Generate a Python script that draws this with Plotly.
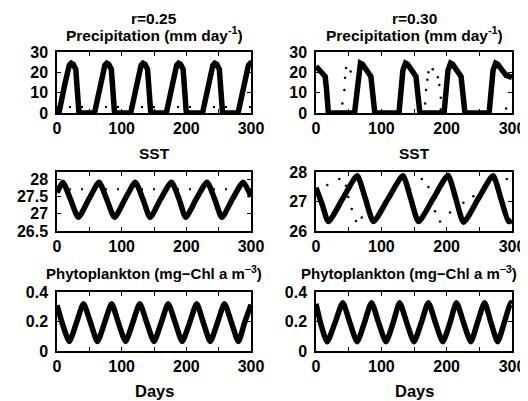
import plotly.graph_objects as go

# ---------------- data ----------------
# r = 0.25, precipitation (mm/day)
p25_days = [0, 3, 12, 19, 22, 25, 29, 31, 34,
            58, 67, 74, 77, 80, 84, 86, 89,
            114, 123, 130, 133, 136, 140, 142, 145,
            169, 178, 185, 188, 191, 195, 197, 200,
            225, 234, 241, 244, 247, 251, 253, 256,
            280, 289, 296, 299, 300]
p25_vals = [0, 0, 14, 23.5, 24.5, 24, 21.5, 15, 0,
            0, 14, 23.5, 24.5, 24, 21.5, 15, 0,
            0, 14, 23.5, 24.5, 24, 21.5, 15, 0,
            0, 14, 23.5, 24.5, 24, 21.5, 15, 0,
            0, 14, 23.5, 24.5, 24, 21.5, 15, 0,
            0, 14, 23.5, 24.5, 24.4]
p25_ref_days = [0, 300]
p25_ref_vals = [3, 3]

# r = 0.25, SST
s25_days = [0, 9, 21, 33, 49, 65, 77, 89, 105, 121, 133, 144, 160, 177,
            189, 199, 215, 232, 244, 255, 271, 288, 300]
s25_vals = [27.62, 27.92, 27.42, 26.9, 27.42, 27.92, 27.42, 26.9, 27.42, 27.92,
            27.42, 26.9, 27.42, 27.92, 27.42, 26.9, 27.42, 27.92, 27.42, 26.9,
            27.42, 27.92, 27.5]
s25_ref_days = [0, 300]
s25_ref_vals = [27.72, 27.72]

# r = 0.25, phytoplankton
c25_days = [0, 8, 19, 30, 41, 52, 62.5, 73.5, 84.5, 95, 106, 117, 128, 139, 150,
            161, 172, 183, 193.5, 205, 216, 226.5, 237, 248, 259, 270, 280.5, 290, 300]
c25_vals = [0.31, 0.19, 0.065, 0.19, 0.32, 0.19, 0.065, 0.19, 0.32, 0.19, 0.065,
            0.19, 0.32, 0.19, 0.065, 0.19, 0.32, 0.19, 0.065, 0.19, 0.32, 0.19,
            0.065, 0.19, 0.32, 0.19, 0.065, 0.19, 0.315]

# r = 0.30, precipitation
p30_days = [0, 14, 16, 19, 59, 62, 65, 68, 71, 84, 86, 90,
            127, 130, 133, 137, 140, 153, 155, 159,
            196, 199, 202, 206, 209, 222, 224, 228,
            265, 268, 271, 275, 278, 291, 300]
p30_vals = [23, 18, 12, 0, 0, 10, 21, 24.5, 24, 18, 12, 0,
            0, 10, 21, 24.5, 24, 18, 12, 0,
            0, 10, 21, 24.5, 24, 18, 12, 0,
            0, 10, 21, 24.5, 24, 18.5, 17.5]
p30_dot_days = [40.3, 43.4, 44.4, 46, 53, 167, 168.5, 170.4, 172, 178.7,
                186.4, 188.8, 191, 191, 291]
p30_dot_vals = [4.7, 11.3, 17.3, 22.1, 20.4, 4.7, 11.3, 16.3, 20, 21.5,
                17.6, 13.8, 7.5, 1.7, 2.2]

# r = 0.30, SST
s30_days = [0, 9.5, 19, 41, 63, 75.5, 88, 110.5, 133, 145, 157, 179.5, 202,
            214, 226, 248.5, 271, 283, 295, 300]
s30_vals = [27.47, 26.9, 26.32, 27.1, 27.87, 27.1, 26.32, 27.1, 27.87, 27.1,
            26.32, 27.1, 27.88, 27.1, 26.3, 27.1, 27.87, 27.1, 26.32, 26.36]
s30_dot_days = [17.3, 35.7, 45.9, 49.5, 54.7, 61.3, 70, 141.3, 144, 161.9,
                172, 182.2, 189.9, 205.2, 225.6, 240.9, 292]
s30_dot_vals = [27.56, 27.76, 27.53, 27.15, 26.75, 26.34, 26.46, 27.53, 27.41,
                27.76, 27.49, 26.67, 26.32, 26.63, 26.96, 27.18, 27.76]

# r = 0.30, phytoplankton
c30_days = [0, 7, 17, 29, 41, 52, 63, 74, 85, 96, 107, 118, 128, 139, 150,
            161, 172, 183, 194, 205, 215, 226, 237, 247, 258, 268, 278, 288, 298, 300]
c30_vals = [0.32, 0.19, 0.063, 0.19, 0.327, 0.19, 0.063, 0.19, 0.327, 0.19, 0.063,
            0.19, 0.327, 0.19, 0.063, 0.19, 0.327, 0.19, 0.063, 0.19, 0.327, 0.19,
            0.063, 0.19, 0.327, 0.19, 0.063, 0.19, 0.327, 0.325]

x_tickvals = [0, 50, 100, 150, 200, 250, 300]
x_ticktext = ["0", "", "100", "", "200", "", "300"]

# ---------------- figure ----------------
# the page body has an 8px margin, so the figure is drawn 8px in from the corner
OFF = 8
W, H = 528 - OFF, 401 - OFF
FONT = "Liberation Sans"
fig = go.Figure()

# pixel boxes in the reference picture (left, right) / (top, bottom)
cols = [(57, 251), (316, 512)]
rows = [(52, 113), (172, 231), (292, 351)]

def px_x(a, b):
    return [(a - OFF) / W, (b - OFF) / W]

def px_y(t, b):
    return [1 - (b - OFF) / H, 1 - (t - OFF) / H]

panels = [
    (0, 0, p25_days, p25_vals, "linear", [0, 30], [0, 10, 20, 30], ["0", "10", "20", "30"]),
    (0, 1, p30_days, p30_vals, "linear", [0, 30], [0, 10, 20, 30], ["0", "10", "20", "30"]),
    (1, 0, s25_days, s25_vals, "spline", [26.5, 28.22], [26.5, 27, 27.5, 28], ["26.5", "27", "27.5", "28"]),
    (1, 1, s30_days, s30_vals, "spline", [26, 28], [26, 27, 28], ["26", "27", "28"]),
    (2, 0, c25_days, c25_vals, "spline", [0, 0.4], [0, 0.2, 0.4], ["0", "0.2", "0.4"]),
    (2, 1, c30_days, c30_vals, "spline", [0, 0.4], [0, 0.2, 0.4], ["0", "0.2", "0.4"]),
]

tickfont = dict(family=FONT, size=16, color="black", weight="bold")

for i, (r, c, xs, ys, shape, yr, ytv, ytt) in enumerate(panels):
    n = i + 1
    xa = "x" if n == 1 else f"x{n}"
    ya = "y" if n == 1 else f"y{n}"
    xkey = "xaxis" if n == 1 else f"xaxis{n}"
    ykey = "yaxis" if n == 1 else f"yaxis{n}"
    fig.add_trace(go.Scatter(
        x=xs, y=ys, mode="lines", xaxis=xa, yaxis=ya,
        line=dict(color="black", width=5.5, shape=shape, smoothing=0.6),
        showlegend=False, hoverinfo="skip"))
    fig.layout[xkey] = dict(
        domain=px_x(*cols[c]), range=[0, 300], anchor=ya, automargin=False,
        tickvals=x_tickvals, ticktext=x_ticktext, ticks="inside", ticklen=4,
        tickwidth=1, tickcolor="black", showline=True, linecolor="black",
        linewidth=1.5, mirror="allticks", showgrid=False, zeroline=False,
        tickfont=tickfont, ticklabelstandoff=0, ticklabeloverflow="allow")
    fig.layout[ykey] = dict(
        domain=px_y(*rows[r]), range=yr, anchor=xa, automargin=False,
        tickvals=ytv, ticktext=ytt, ticks="inside", ticklen=4,
        tickwidth=1, tickcolor="black", showline=True, linecolor="black",
        linewidth=1.5, mirror="allticks", showgrid=False, zeroline=False,
        tickfont=tickfont, ticklabelstandoff=4)

# dotted reference / secondary trajectories
fig.add_trace(go.Scatter(x=p25_ref_days, y=p25_ref_vals, mode="lines", xaxis="x", yaxis="y",
                         line=dict(color="black", width=2, dash="2px,10px"),
                         showlegend=False, hoverinfo="skip"))
fig.add_trace(go.Scatter(x=s25_ref_days, y=s25_ref_vals, mode="lines", xaxis="x3", yaxis="y3",
                         line=dict(color="black", width=2, dash="2px,10px"),
                         showlegend=False, hoverinfo="skip"))
fig.add_trace(go.Scatter(x=p30_dot_days, y=p30_dot_vals, mode="markers", xaxis="x2", yaxis="y2",
                         marker=dict(color="black", size=2.5),
                         showlegend=False, hoverinfo="skip"))
fig.add_trace(go.Scatter(x=s30_dot_days, y=s30_dot_vals, mode="markers", xaxis="x4", yaxis="y4",
                         marker=dict(color="black", size=2.5),
                         showlegend=False, hoverinfo="skip"))

def label(text, xc, yc, size=15.5):
    fig.add_annotation(text=text, x=(xc - OFF) / W, y=1 - (yc - OFF) / H,
                       xref="paper", yref="paper",
                       xanchor="center", yanchor="middle", showarrow=False,
                       font=dict(family=FONT, size=size, color="black", weight="bold"))

lc = (cols[0][0] + cols[0][1]) / 2
rc = (cols[1][0] + cols[1][1]) / 2
label("r=0.25", lc, 18)
label("r=0.30", rc, 18)
label("Precipitation (mm day<sup>-1</sup>)", lc, 34)
label("Precipitation (mm day<sup>-1</sup>)", rc, 34)
label("SST", lc, 153)
label("SST", rc, 153)
label("Phytoplankton (mg\u2212Chl a m<sup>\u22123</sup>)", lc, 272, size=15)
label("Phytoplankton (mg\u2212Chl a m<sup>\u22123</sup>)", rc - 5, 272, size=15)
label("Days", lc, 391, size=16.5)
label("Days", rc, 391, size=16.5)

fig.update_layout(width=W, height=H, margin=dict(l=0, r=0, t=0, b=0),
                  paper_bgcolor="white", plot_bgcolor="white", template="none")

fig.write_html("out.html")
